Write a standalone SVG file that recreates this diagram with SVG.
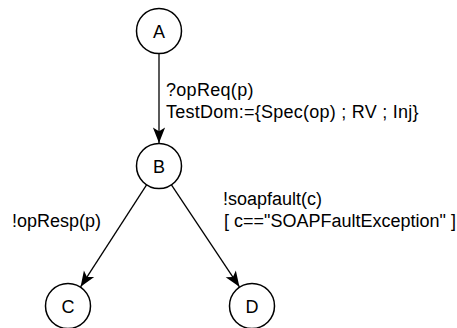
<svg xmlns="http://www.w3.org/2000/svg" width="457" height="328" viewBox="0 0 457 328">
<style>
.node circle{fill:#fff;stroke:#000;stroke-width:1.5}
.node text{font-family:"Liberation Sans",Arial,sans-serif;font-size:18px;fill:#000;text-anchor:middle}
.edge{stroke:#000;stroke-width:1.3;fill:none}
.lbl{font-family:"Liberation Sans",Arial,sans-serif;font-size:18px;fill:#000}
</style>
<defs>
<marker id="arr" markerUnits="userSpaceOnUse" markerWidth="20" markerHeight="20" viewBox="-16 -8 18 16" refX="0" refY="0" orient="auto">
<path d="M0,0 L-14,-5.5 L-10.5,0 L-14,5.5 Z" fill="#000"/>
</marker>
</defs>
<rect width="457" height="328" fill="#fff"/>
<g id="connectors">
<line class="edge" x1="159" y1="53" x2="159" y2="143" marker-end="url(#arr)"/>
<line class="edge" x1="146.9" y1="184.4" x2="80.6" y2="286.8" marker-end="url(#arr)"/>
<line class="edge" x1="171.1" y1="184.4" x2="239.4" y2="286.8" marker-end="url(#arr)"/>
<text class="lbl" x="166" y="96" letter-spacing="0.3">?opReq(p)</text>
<text class="lbl" x="166" y="118" letter-spacing="0.25">TestDom:={Spec(op) ; RV ; Inj}</text>
<text class="lbl" x="12" y="227">!opResp(p)</text>
<text class="lbl" x="223" y="205">!soapfault(c)</text>
<text class="lbl" x="224" y="227">[ c=="SOAPFaultException" ]</text>
</g>
<g id="A" class="node"><circle cx="159" cy="31" r="22.5"/><text x="159" y="37.5">A</text></g>
<g id="B" class="node"><circle cx="159" cy="166" r="22.5"/><text x="159" y="172.5">B</text></g>
<g id="C" class="node"><circle cx="68" cy="306" r="22.5"/><text x="68" y="312.5">C</text></g>
<g id="D" class="node"><circle cx="252" cy="306" r="22.5"/><text x="252" y="312.5">D</text></g>
</svg>
